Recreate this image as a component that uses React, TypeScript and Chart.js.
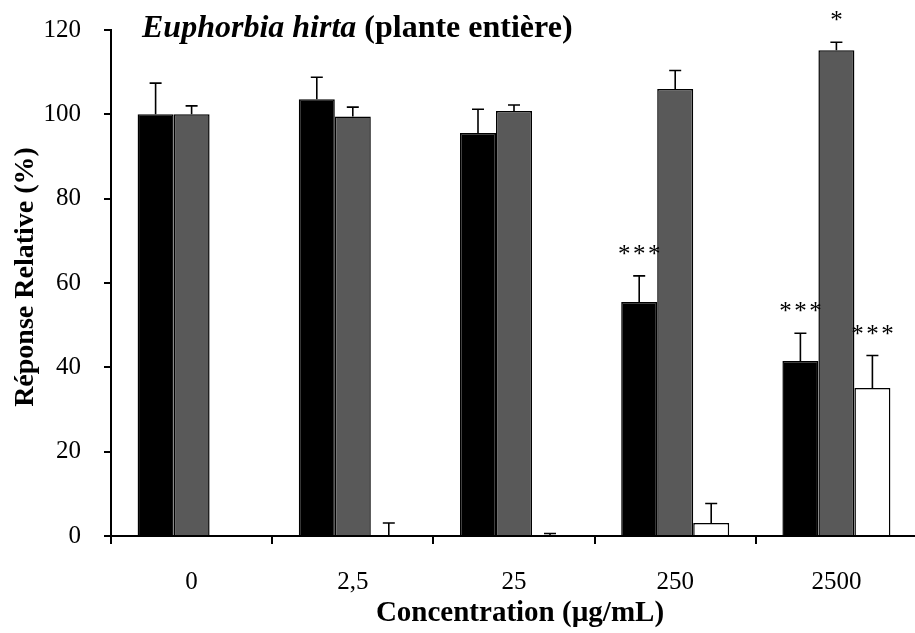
import React, { useEffect, useRef } from "react";
import { Chart, registerables } from "chart.js";

Chart.register(...registerables);

const categories = ["0", "2,5", "25", "250", "2500"];
const seriesBlack = [100, 103.6, 95.6, 55.5, 41.5];
const errBlack = [7.4, 5.2, 5.6, 6.2, 6.6];
const seriesGray = [100, 99.5, 100.8, 106, 115.2];
const errGray = [2.0, 2.2, 1.4, 4.4, 1.9];
const seriesWhite = [null, 0.2, 0.2, 3.1, 35.1];
const errWhite = [null, 2.9, 0.4, 4.6, 7.7];
const sigBlack = ["", "", "", "***", "***"];
const sigGray = ["", "", "", "", "*"];
const sigWhite = ["", "", "", "", "***"];
const yTicks = [0, 20, 40, 60, 80, 100, 120];

const titleItalic = "Euphorbia hirta";
const titleRest = " (plante entière)";
const xTitle = "Concentration (µg/mL)";
const yTitle = "Réponse Relative (%)";

const errs = [errBlack, errGray, errWhite];
const sigs = [sigBlack, sigGray, sigWhite];

const SERIF = "'Liberation Serif', 'Times New Roman', serif";

const overlayPlugin = {
  id: "overlay",
  afterDatasetsDraw(chart: any) {
    const ctx = chart.ctx;
    const ys = chart.scales.y;
    chart.data.datasets.forEach((ds: any, di: number) => {
      const meta = chart.getDatasetMeta(di);
      meta.data.forEach((bar: any, i: number) => {
        const v = ds.data[i];
        const e = errs[di][i];
        if (v == null || e == null) return;
        const x = bar.x;
        const yTop = ys.getPixelForValue(v);
        const yErr = ys.getPixelForValue(v + e);
        ctx.save();
        ctx.strokeStyle = "#000";
        ctx.lineWidth = 1.6;
        ctx.beginPath();
        ctx.moveTo(x, yTop);
        ctx.lineTo(x, yErr);
        ctx.moveTo(x - 6, yErr);
        ctx.lineTo(x + 6, yErr);
        ctx.stroke();
        const s = sigs[di][i];
        if (s) {
          ctx.fillStyle = "#000";
          ctx.font = `25px ${SERIF}`;
          ctx.textAlign = "center";
          ctx.textBaseline = "alphabetic";
          const n = s.length;
          const gap = 15;
          for (let k = 0; k < n; k++) {
            const cx = x + (k - (n - 1) / 2) * gap;
            ctx.fillText("*", cx, yErr - 28 + 14);
          }
        }
        ctx.restore();
      });
    });
  },
  afterDraw(chart: any) {
    const ctx = chart.ctx;
    ctx.save();
    ctx.fillStyle = "#000";
    ctx.textBaseline = "alphabetic";
    ctx.textAlign = "left";
    ctx.font = `italic bold 32px ${SERIF}`;
    const x0 = 142;
    ctx.fillText(titleItalic, x0, 37);
    const w = ctx.measureText(titleItalic).width;
    ctx.font = `bold 32px ${SERIF}`;
    ctx.fillText(titleRest, x0 + w, 37);

    ctx.font = `bold 29px ${SERIF}`;
    ctx.textAlign = "center";
    ctx.textBaseline = "middle";
    ctx.fillText(xTitle, 520, 614);

    ctx.font = `bold 28px ${SERIF}`;
    ctx.translate(26, 277);
    ctx.rotate(-Math.PI / 2);
    ctx.fillText(yTitle, 0, 0);
    ctx.restore();
  },
};

export default function App() {
  const ref = useRef<HTMLCanvasElement>(null);
  useEffect(() => {
    const canvas = ref.current!;
    const chart = new Chart(canvas, {
      type: "bar",
      data: {
        labels: categories,
        datasets: [
          { data: seriesBlack, backgroundColor: "#000000", borderColor: "#000000", borderWidth: 1.5 },
          { data: seriesGray, backgroundColor: "#595959", borderColor: "#000000", borderWidth: 1.5 },
          { data: seriesWhite as any, backgroundColor: "#ffffff", borderColor: "#000000", borderWidth: 1.5 },
        ],
      },
      options: {
        responsive: false,
        animation: false,
        events: [],
        layout: { padding: { top: 30, right: 8, left: 0, bottom: 0 } },
        plugins: { legend: { display: false }, tooltip: { enabled: false }, title: { display: false } },
        datasets: { bar: { categoryPercentage: 0.67, barPercentage: 1 } },
        scales: {
          x: {
            offset: true,
            grid: { offset: true, drawOnChartArea: false, drawTicks: true, tickLength: 8, color: "#000", lineWidth: 2 },
            border: { display: true, color: "#000", width: 2 },
            ticks: { color: "#000", font: { family: SERIF, size: 25 }, padding: 23, maxRotation: 0 },
            afterFit: (s: any) => { s.height = 97; s.paddingLeft = 0; s.paddingRight = 0; },
          },
          y: {
            min: 0,
            max: 120,
            afterBuildTicks: (s: any) => { s.ticks = yTicks.map((v) => ({ value: v })); },
            grid: { drawOnChartArea: false, drawTicks: true, tickLength: 7, color: "#000", lineWidth: 2 },
            border: { display: true, color: "#000", width: 2 },
            ticks: { color: "#000", font: { family: SERIF, size: 25 }, padding: 23 },
            afterFit: (s: any) => { s.width = 111; s.paddingTop = 0; s.paddingBottom = 0; },
          },
        },
      },
      plugins: [overlayPlugin],
    });
    return () => chart.destroy();
  }, []);
  return (
    <div style={{ position: "absolute", left: 0, top: 0, width: 915, height: 633, overflow: "hidden", background: "#fff" }}>
      <canvas ref={ref} width={925} height={633} style={{ display: "block" }} />
    </div>
  );
}
